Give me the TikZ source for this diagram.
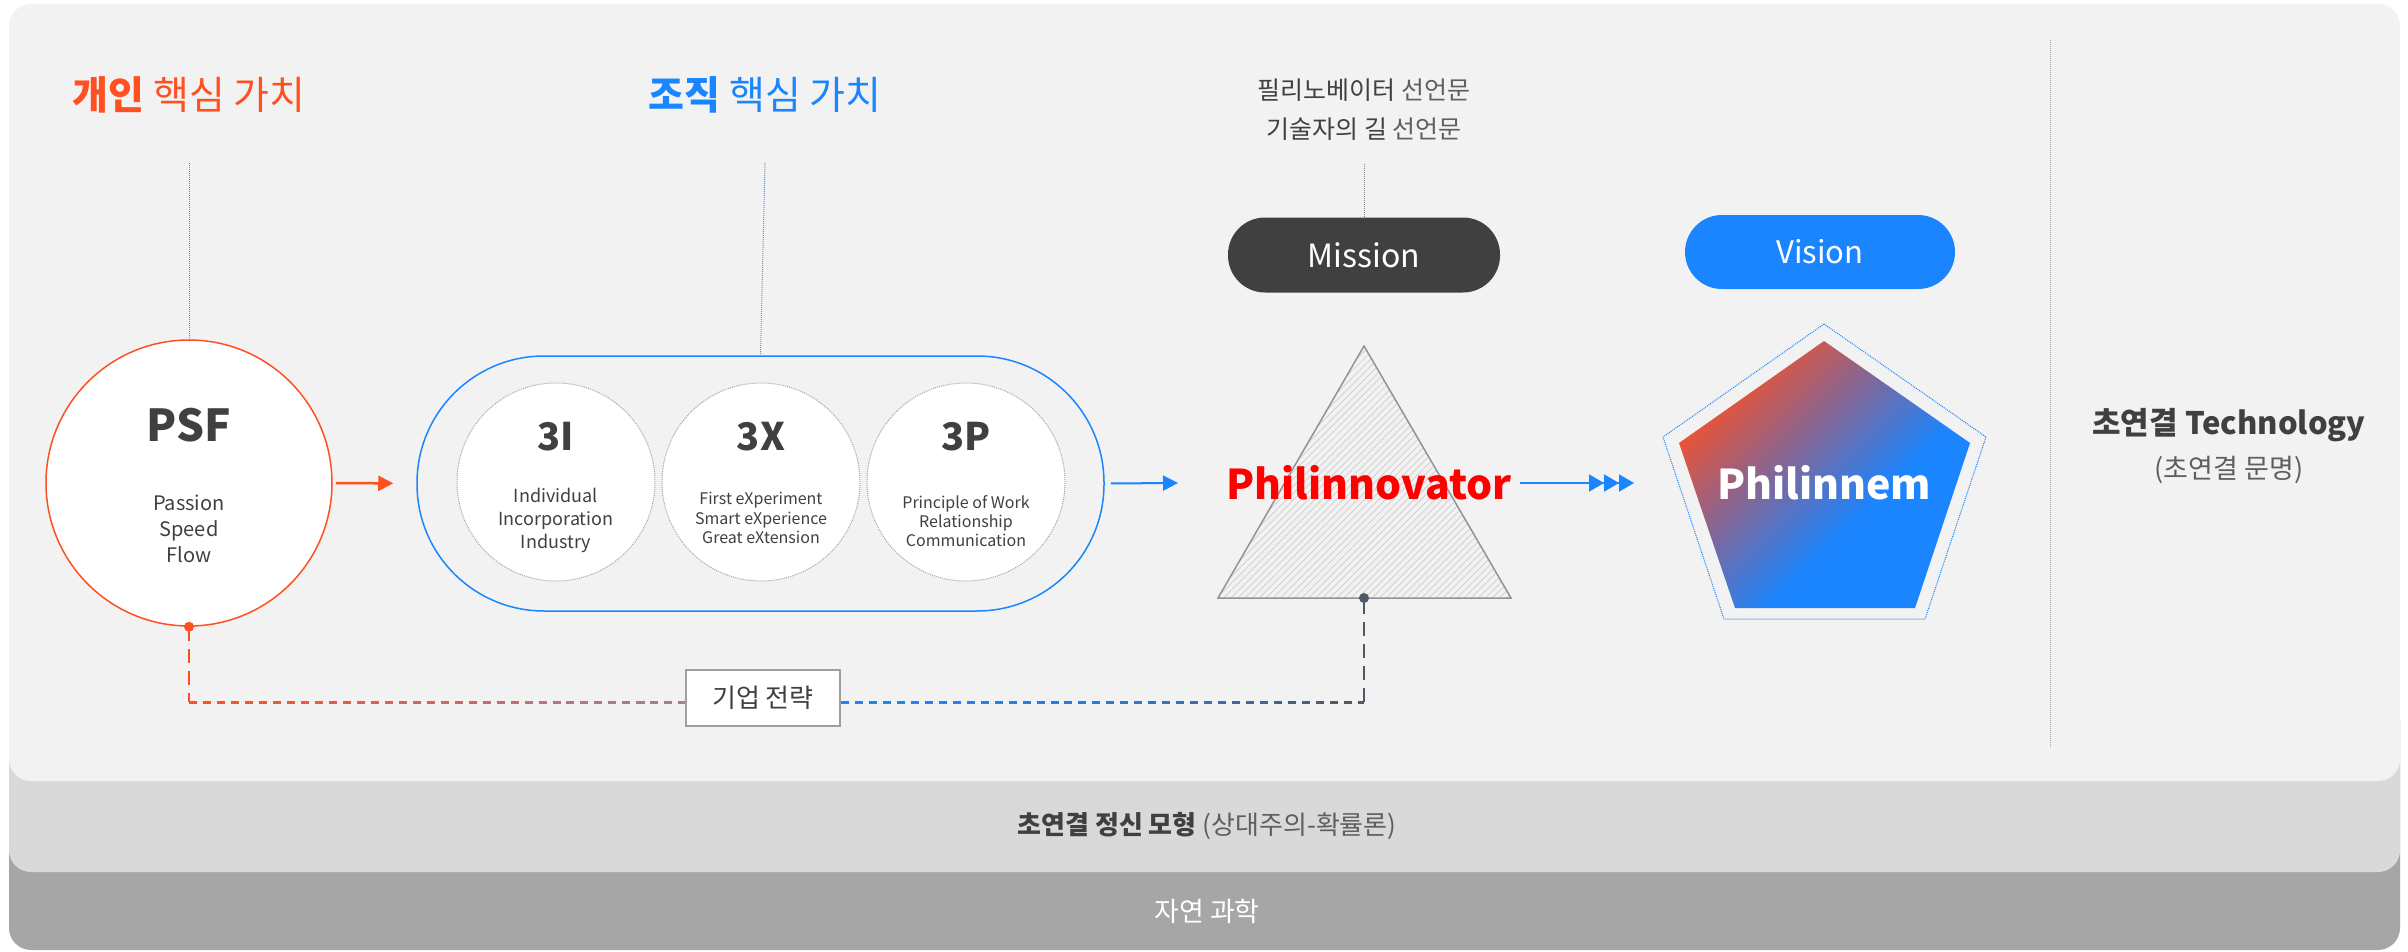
\documentclass[tikz,border=0pt]{standalone}
\usepackage{fontspec}
\setmainfont{Noto Sans CJK KR}
\usetikzlibrary{arrows.meta,patterns.meta,calc}

\definecolor{porange}{HTML}{FF5020}
\definecolor{pblue}{HTML}{1A85FF}
\definecolor{pdark}{HTML}{404040}
\definecolor{pgray}{HTML}{5F5F5F}
\definecolor{pred}{HTML}{FF0000}
\definecolor{pslate}{HTML}{4F5A66}
\definecolor{pmauve}{HTML}{9A82AE}
\definecolor{ppurple}{HTML}{8A6490}
\definecolor{panel}{HTML}{F2F2F2}
\definecolor{bandmid}{HTML}{D9D9D9}
\definecolor{bandlow}{HTML}{A6A6A6}

\pgfdeclareverticalshading{philgrad}{100bp}{color(0bp)=(pblue); color(40bp)=(pblue); color(58bp)=(ppurple); color(76bp)=(porange); color(100bp)=(porange)}

\tikzset{
  titletext/.style={font=\fontsize{39}{46}\selectfont, inner sep=0pt},
  tickline/.style={line width=1pt, densely dotted},
  valueball/.style={circle, draw=gray!70, densely dotted, line width=1pt, fill=white, minimum size=198pt, inner sep=0pt},
  balltitle/.style={font=\bfseries\fontsize{38}{44}\selectfont, text=pdark, inner sep=0pt},
  ballwords/.style={align=center, text=pdark, inner sep=0pt},
  pillbox/.style={rounded corners=37pt, minimum width=272pt, minimum height=75pt, text=white, font=\fontsize{32}{38}\selectfont},
  flowarrow/.style={line width=2.5pt, -{Triangle[length=15pt,width=15pt]}},
  linkline/.style={line width=3pt, dash pattern=on 8pt off 6pt},
  droplink/.style={line width=2pt, dash pattern=on 14pt off 8pt},
  bandtext/.style={font=\fontsize{26}{32}\selectfont, inner sep=0pt}
}

\begin{document}
\begin{tikzpicture}[x=1pt, y=-1pt]

    % --- Canvas and background bands ---
    \useasboundingbox (0,0) rectangle (2408,952);
    \fill[bandlow, rounded corners=22pt] (9,700) rectangle (2400,950);
    \fill[bandmid, rounded corners=22pt] (9,700) rectangle (2400,872);
    \fill[panel, rounded corners=22pt] (9,4) rectangle (2400,781);

    % --- Coordinates ---
    % upper ends of the thin guide lines
    \coordinate (otick) at (189,163);
    \coordinate (btick) at (765,163);
    \coordinate (mtick) at (1364,164);
    % triangle corners
    \coordinate (apex) at (1364,346);
    \coordinate (baseL) at (1218,598);
    \coordinate (baseR) at (1511,598);
    \coordinate (tridot) at (1364,598);
    % arrow ends
    \coordinate (triin) at (1178,483);
    \coordinate (pentin) at (1634,483);
    % outer pentagon
    \coordinate (oa) at (1824,324);
    \coordinate (ob) at (1986,437);
    \coordinate (oc) at (1925,619);
    \coordinate (od) at (1724,619);
    \coordinate (oe) at (1663,437);
    % inner pentagon
    \coordinate (ia) at (1824,341);
    \coordinate (ib) at (1970,443);
    \coordinate (ic) at (1915,608);
    \coordinate (id) at (1735,608);
    \coordinate (ie) at (1679,443);
    % corners of the strategy link
    \coordinate (lcorner) at (189,702);
    \coordinate (rcorner) at (1364,702);
    % separator
    \coordinate (septop) at (2050,40);
    \coordinate (sepbot) at (2050,748);

    % --- Column titles ---
    \node[titletext, text=porange] (indivtitle) at (189,95) {{\bfseries 개인} 핵심 가치};
    \node[titletext, text=pblue] (orgtitle) at (765,95) {{\bfseries 조직} 핵심 가치};
    \node[align=center, text=pdark, font=\fontsize{25}{39}\selectfont, inner sep=0pt] (manifesto) at (1364,110)
        {필리노베이터 {\color{pgray}선언문}\\기술자의 길 {\color{pgray}선언문}};

    % --- PSF circle ---
    \node[circle, draw=porange, line width=1.5pt, fill=white, minimum size=286pt] (psfcircle) at (189,483) {};
    \node[font=\bfseries\fontsize{44}{50}\selectfont, text=pdark, inner sep=0pt] (psftitle) at (189,425) {PSF};
    \node[ballwords, font=\fontsize{20}{26}\selectfont] (psfwords) at (189,529) {Passion\\Speed\\Flow};
    \coordinate (psfdot) at (psfcircle.south);

    % --- Organisation values ---
    \node[draw=pblue, line width=1.5pt, rounded corners=127pt, minimum width=687pt, minimum height=255pt] (groupbox) at (760.5,483.5) {};
    \node[valueball] (ball3i) at (556,482) {};
    \node[valueball] (ball3x) at (761,482) {};
    \node[valueball] (ball3p) at (966,482) {};
    \node[balltitle] (title3i) at (556,437) {3I};
    \node[balltitle] (title3x) at (761,437) {3X};
    \node[balltitle] (title3p) at (966,437) {3P};
    \node[ballwords, font=\fontsize{18}{23}\selectfont] (words3i) at (556,520) {Individual\\Incorporation\\Industry};
    \node[ballwords, font=\fontsize{16}{19.5}\selectfont] (words3x) at (761,518) {First eXperiment\\Smart eXperience\\Great eXtension};
    \node[ballwords, font=\fontsize{16}{19}\selectfont] (words3p) at (966,521) {Principle of Work\\Relationship\\Communication};

    % --- Guide lines ---
    \draw[tickline, porange] (otick) -- (psfcircle.north);
    \draw[tickline, pblue!80] (btick) -- (groupbox.north);
    \draw[tickline, gray] (mtick) -- (1364,218);

    % --- Mission and Philinnovator ---
    \node[pillbox, fill=pdark] (mission) at (1364,255) {Mission};
    \draw[draw=gray!85, line width=1.5pt, pattern={Lines[angle=45,distance=5pt,line width=0.7pt]}, pattern color=gray!40]
        (apex) -- (baseR) -- (baseL) -- cycle;
    \node[font=\bfseries\fontsize{41}{48}\selectfont, text=pred, inner sep=0pt] (philtext) at (1369,483) {Philinnovator};
    \fill[pslate] (tridot) circle (5pt);

    % --- Vision and Philinnem ---
    \node[pillbox, fill=pblue, minimum width=270pt, minimum height=74pt, font=\fontsize{31}{36}\selectfont] (vision) at (1820,252) {Vision};
    \draw[pblue, densely dotted, line width=1pt] (oa) -- (ob) -- (oc) -- (od) -- (oe) -- cycle;
    \shade[shading=philgrad, shading angle=45] (ia) -- (ib) -- (ic) -- (id) -- (ie) -- cycle;
    \node[font=\bfseries\fontsize{41}{48}\selectfont, text=white, inner sep=0pt] (philinnem) at (1824,483) {Philinnem};

    % --- Flow arrows ---
    \draw[flowarrow, porange, shorten <=3pt, shorten >=23pt] (psfcircle.east) -- (groupbox.west);
    \draw[flowarrow, pblue, line width=2pt, shorten <=6pt] (groupbox.east) -- (triin);
    \draw[pblue, line width=2pt, shorten <=8pt,
          -{Triangle[length=15pt,width=17pt]Triangle[length=15pt,width=17pt]Triangle[length=15pt,width=17pt]}]
        (philtext.east) -- (pentin);

    % --- Strategy link ---
    \node[draw=gray!75, line width=1.5pt, fill=white, minimum width=154pt, minimum height=56pt,
          font=\fontsize{26}{32}\selectfont, text=pdark] (strategy) at (763,698) {기업 전략};
    \coordinate (lend) at (strategy.west |- lcorner);
    \coordinate (rstart) at (strategy.east |- rcorner);
    \fill[porange] (psfdot) circle (5pt);
    \draw[droplink, porange] (psfdot) -- (lcorner);
    \foreach \i in {0,...,11}{
        \pgfmathtruncatemacro\pct{100-\i*8}
        \pgfmathsetmacro\ph{\i*497/12}
        \draw[linkline, porange!\pct!pmauve, dash phase=\ph pt]
            ($(lcorner)!\i/12!(lend)$) -- ($(lcorner)!{(\i+1)/12}!(lend)$);
    }
    \foreach \i in {0,...,11}{
        \pgfmathtruncatemacro\pct{100-\i*\i*100/121}
        \pgfmathsetmacro\ph{\i*524/12}
        \draw[linkline, pblue!\pct!pslate, dash phase=\ph pt]
            ($(rstart)!\i/12!(rcorner)$) -- ($(rstart)!{(\i+1)/12}!(rcorner)$);
    }
    \draw[droplink, pslate] (rcorner) -- (tridot);

    % --- Right column ---
    \draw[tickline, gray!70] (septop) -- (sepbot);
    \node[font=\bfseries\fontsize{31}{38}\selectfont, text=pdark, inner sep=0pt] (tech) at (2229,425) {초연결 Technology};
    \node[font=\fontsize{27}{32}\selectfont, text=pgray, inner sep=0pt] (techsub) at (2229,470) {(초연결 문명)};

    % --- Band labels ---
    \node[bandtext, text=pdark] (mindband) at (1207,826) {{\bfseries 초연결 정신 모형} {\color{pgray}(상대주의-확률론)}};
    \node[bandtext, text=white, font=\fontsize{27}{32}\selectfont] (scienceband) at (1207,911) {자연 과학};

\end{tikzpicture}
\end{document}
